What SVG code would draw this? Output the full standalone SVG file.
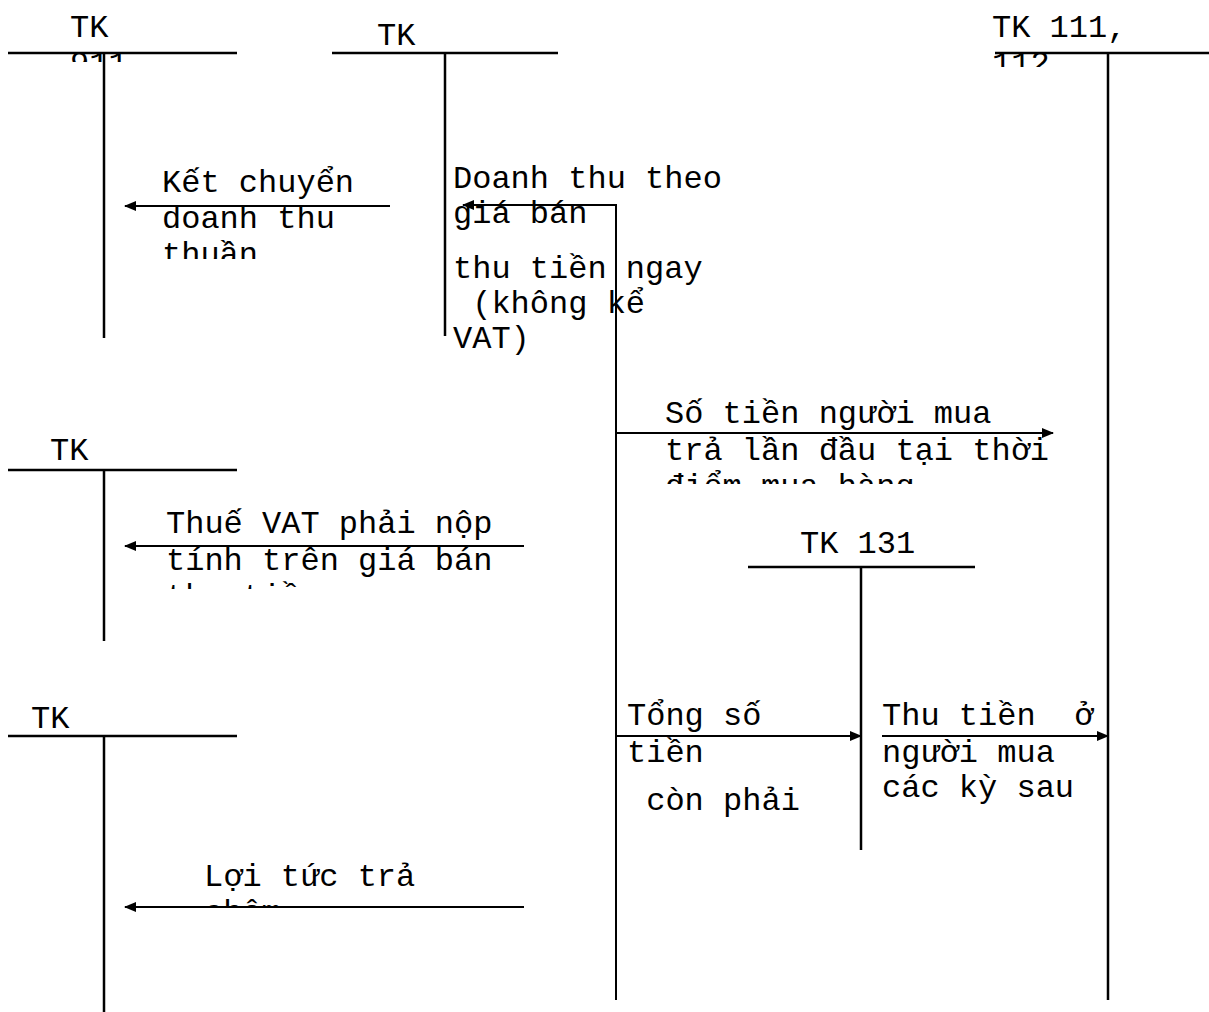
<svg xmlns="http://www.w3.org/2000/svg" width="1209" height="1012" viewBox="0 0 1209 1012">
<style>
text{font-family:"Liberation Mono","Courier New",monospace;font-size:32px;fill:#000;white-space:pre}
.t{stroke:#000;stroke-width:2.5;fill:none}
.c{stroke:#000;stroke-width:2;fill:none;marker-end:url(#ah)}
</style>
<defs>
<marker id="ah" markerUnits="userSpaceOnUse" markerWidth="12" markerHeight="10" refX="11" refY="5" orient="auto">
<path d="M0,0 L12,5 L0,10 Z" fill="#000"/>
</marker>
<clipPath id="c911"><rect x="55" y="0" width="180" height="62"/></clipPath>
<clipPath id="c511"><rect x="340" y="0" width="180" height="52"/></clipPath>
<clipPath id="c111"><rect x="985" y="0" width="220" height="67"/></clipPath>
<clipPath id="ckc"><rect x="150" y="160" width="240" height="99"/></clipPath>
<clipPath id="cst"><rect x="655" y="390" width="420" height="94"/></clipPath>
<clipPath id="cvat"><rect x="155" y="500" width="380" height="89"/></clipPath>
<clipPath id="clt"><rect x="195" y="850" width="320" height="56"/></clipPath>
</defs>

<g id="tk911">
<text x="70" y="37" clip-path="url(#c911)">TK<tspan x="70" y="73">911</tspan></text>
<path class="t" d="M8,53 H237 M104,53 V338"/>
</g>

<g id="tk511">
<text x="377" y="45" clip-path="url(#c511)">TK</text>
<path class="t" d="M332,53 H558 M445,53 V336"/>
</g>

<g id="tk111">
<text x="992" y="37" clip-path="url(#c111)">TK 111,<tspan x="992" y="73">112</tspan></text>
<path class="t" d="M995,53 H1209 M1108,53 V1000"/>
</g>

<g id="tk3331">
<text x="50" y="460">TK</text>
<path class="t" d="M8,470 H237 M104,470 V641"/>
</g>

<g id="tk3387">
<text x="31" y="728">TK</text>
<path class="t" d="M8,736 H237 M104,736 V1012"/>
</g>

<g id="tk131">
<text x="800" y="553">TK 131</text>
<path class="t" d="M748,567 H975 M861,567 V850"/>
</g>

<g id="labels">
<text x="162" y="192" clip-path="url(#ckc)">Kết chuyển<tspan x="162" y="228">doanh thu</tspan><tspan x="162" y="264">thuần</tspan></text>
<text x="453" y="188">Doanh thu theo<tspan x="453" y="223">giá bán</tspan></text>
<text x="453" y="278">thu tiền ngay<tspan x="453" y="313"> (không kể</tspan><tspan x="453" y="348">VAT)</tspan></text>
<text x="665" y="423" clip-path="url(#cst)">Số tiền người mua<tspan x="665" y="460">trả lần đầu tại thời</tspan><tspan x="665" y="496">điểm mua hàng</tspan></text>
<text x="166" y="533" clip-path="url(#cvat)">Thuế VAT phải nộp<tspan x="166" y="570">tính trên giá bán</tspan><tspan x="166" y="606">thu tiền</tspan></text>
<text x="627" y="725">Tổng số<tspan x="627" y="762">tiền</tspan><tspan x="627" y="810"> còn phải</tspan></text>
<text x="882" y="725">Thu tiền  ở<tspan x="882" y="762">người mua</tspan><tspan x="882" y="797">các kỳ sau</tspan></text>
<text x="204" y="886" clip-path="url(#clt)">Lợi tức trả<tspan x="204" y="922">chậm</tspan></text>
</g>

<g id="connectors">
<path class="c" d="M390,206 H125"/>
<path class="c" d="M616,1000 V205 H463"/>
<path class="c" d="M616,433 H1053"/>
<path class="c" d="M524,546 H125"/>
<path class="c" d="M616,736 H861"/>
<path class="c" d="M882,736 H1108"/>
<path class="c" d="M524,907 H125"/>
</g>
</svg>
